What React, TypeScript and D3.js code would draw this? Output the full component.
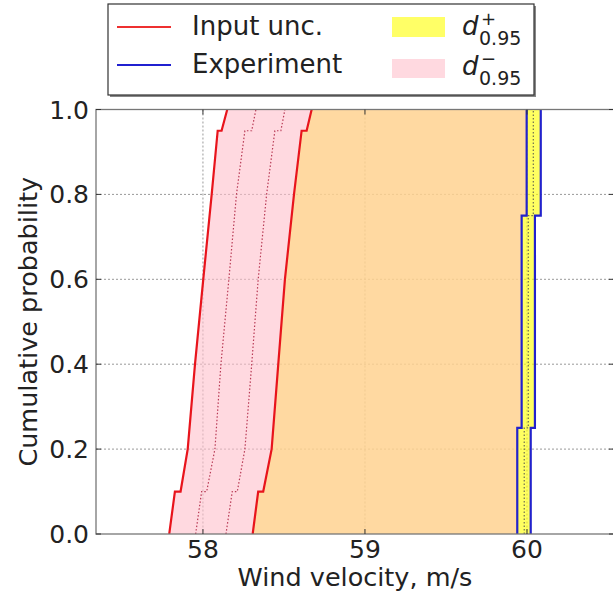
import React from "react";
import * as d3 from "d3";

// axis ticks
const xTicks = [58, 59, 60];
const yTicks = [0, 0.2, 0.4, 0.6, 0.8, 1.0];
const gridY = [0.2, 0.4, 0.6, 0.8];

// input uncertainty p-box (wind velocity at each cumulative level)
const probLevels = [0, 0.1, 0.1, 0.2, 0.4, 0.6, 0.8, 0.95, 0.95, 1.0];
const inputLower = [57.792, 57.827, 57.862, 57.906, 57.951, 58.002, 58.054, 58.091, 58.115, 58.15];
const inputInner1 = [57.955, 57.992, 58.023, 58.074, 58.111, 58.16, 58.207, 58.259, 58.301, 58.327];
const inputInner2 = [58.142, 58.181, 58.212, 58.259, 58.301, 58.341, 58.393, 58.444, 58.481, 58.506];
const inputUpper = [58.307, 58.341, 58.372, 58.424, 58.465, 58.506, 58.562, 58.609, 58.64, 58.671];

// experiment step cdf and its band
const expLevels = [0, 0.25, 0.25, 0.75, 0.75, 1.0];
const expLower = [59.94, 59.94, 59.967, 59.967, 59.998, 59.998];
const expCenter = [59.983, 59.983, 60.008, 60.008, 60.039, 60.039];
const expUpper = [60.023, 60.023, 60.049, 60.049, 60.085, 60.085];

const W = 613;
const H = 596;
const margin = { left: 96, top: 109.5, right: 614, bottom: 534 };
const font = "'DejaVu Sans', sans-serif";

export default function App() {
  const x = d3.scaleLinear().domain([57.34, 60.537]).range([margin.left, margin.right]);
  const y = d3.scaleLinear().domain([0, 1]).range([margin.bottom, margin.top]);

  const line = d3
    .line<[number, number]>()
    .x((d) => x(d[0]))
    .y((d) => y(d[1]));

  const pts = (xs: number[], ps: number[]) => xs.map((v, i) => [v, ps[i]] as [number, number]);

  // pink: lower input to lower experiment; yellow: upper input to upper experiment
  const pinkPoly = [...pts(inputLower, probLevels), ...pts(expLower, expLevels).reverse()];
  const yellowPoly = [...pts(inputUpper, probLevels), ...pts(expUpper, expLevels).reverse()];

  const plotW = margin.right - margin.left;
  const plotH = margin.bottom - margin.top;
  const tickLen = 5;

  return (
    <svg
      width={W}
      height={H}
      style={{ position: "absolute", left: 0, top: 0, background: "#fff" }}
      fontFamily={font}
    >
      <defs>
        <clipPath id="plotClip">
          <rect x={margin.left} y={margin.top} width={plotW} height={plotH} />
        </clipPath>
      </defs>

      {/* grid below fills */}
      <g stroke="#999" strokeWidth={1} strokeDasharray="2,2">
        {xTicks.map((t) => (
          <line key={"gx" + t} x1={x(t)} x2={x(t)} y1={margin.top} y2={margin.bottom} />
        ))}
        {gridY.map((t) => (
          <line key={"gy" + t} x1={margin.left} x2={margin.right} y1={y(t)} y2={y(t)} />
        ))}
      </g>

      <g clipPath="url(#plotClip)">
        <path d={line(yellowPoly) + "Z"} fill="yellow" fillOpacity={0.62} />
        <path d={line(pinkPoly) + "Z"} fill="pink" fillOpacity={0.6} />

        {/* dotted inner lines */}
        <g fill="none" strokeWidth={1.2} strokeDasharray="1.5,2">
          <path d={line(pts(inputInner1, probLevels)) || ""} stroke="#b83a55" />
          <path d={line(pts(inputInner2, probLevels)) || ""} stroke="#b83a55" />
          <path d={line(pts(expCenter, expLevels)) || ""} stroke="#6e6e50" />
        </g>

        <g fill="none" strokeWidth={2.2}>
          <path d={line(pts(inputLower, probLevels)) || ""} stroke="#e8141c" />
          <path d={line(pts(inputUpper, probLevels)) || ""} stroke="#e8141c" />
          <path d={line(pts(expLower, expLevels)) || ""} stroke="#2222cc" />
          <path d={line(pts(expUpper, expLevels)) || ""} stroke="#2222cc" />
        </g>
      </g>

      {/* frame */}
      <rect
        x={margin.left}
        y={margin.top}
        width={plotW}
        height={plotH}
        fill="none"
        stroke="#777"
        strokeWidth={1.3}
      />

      {/* ticks, inward on all sides */}
      <g stroke="#333" strokeWidth={1}>
        {xTicks.map((t) => (
          <g key={"xt" + t}>
            <line x1={x(t)} x2={x(t)} y1={margin.bottom} y2={margin.bottom - tickLen} />
            <line x1={x(t)} x2={x(t)} y1={margin.top} y2={margin.top + tickLen} />
          </g>
        ))}
        {yTicks.map((t) => (
          <g key={"yt" + t}>
            <line x1={margin.left} x2={margin.left + tickLen} y1={y(t)} y2={y(t)} />
            <line x1={margin.right} x2={margin.right - tickLen} y1={y(t)} y2={y(t)} />
          </g>
        ))}
      </g>

      {/* tick labels */}
      <g fontSize={25} fill="#222">
        {xTicks.map((t) => (
          <text key={"xl" + t} x={x(t)} y={558} textAnchor="middle">
            {t}
          </text>
        ))}
        {yTicks.map((t) => (
          <text key={"yl" + t} x={89} y={y(t) + 9} textAnchor="end">
            {t.toFixed(1)}
          </text>
        ))}
      </g>

      {/* axis labels */}
      <text x={355} y={586} textAnchor="middle" fontSize={25.5} fill="#222">
        Wind velocity, m/s
      </text>
      <text
        transform={`translate(37, ${(margin.top + margin.bottom) / 2}) rotate(-90)`}
        textAnchor="middle"
        fontSize={25.5}
        fill="#222"
      >
        Cumulative probability
      </text>

      {/* legend */}
      <g>
        <rect x={110} y={6} width={426} height={91} fill="#888" />
        <rect x={108} y={4} width={426} height={91} fill="#fff" stroke="#333" strokeWidth={1.2} />
        <line x1={117} x2={171} y1={27} y2={27} stroke="#ee3030" strokeWidth={2} />
        <line x1={117} x2={171} y1={65} y2={65} stroke="#2020d0" strokeWidth={2} />
        <text x={192} y={35} fontSize={26} fill="#222">
          Input unc.
        </text>
        <text x={192} y={73} fontSize={26} fill="#222">
          Experiment
        </text>
        <rect x={392} y={17} width={53} height={20} fill="yellow" fillOpacity={0.6} />
        <rect x={392} y={59} width={53} height={19} fill="pink" fillOpacity={0.6} />
        <g fill="#222">
          <text x={462} y={35} fontSize={26} fontStyle="italic">
            d
          </text>
          <text x={481} y={25} fontSize={18}>
            +
          </text>
          <text x={479} y={45} fontSize={19}>
            0.95
          </text>
          <text x={462} y={75} fontSize={26} fontStyle="italic">
            d
          </text>
          <text x={481} y={65} fontSize={18}>
            −
          </text>
          <text x={479} y={85} fontSize={19}>
            0.95
          </text>
        </g>
      </g>
    </svg>
  );
}
